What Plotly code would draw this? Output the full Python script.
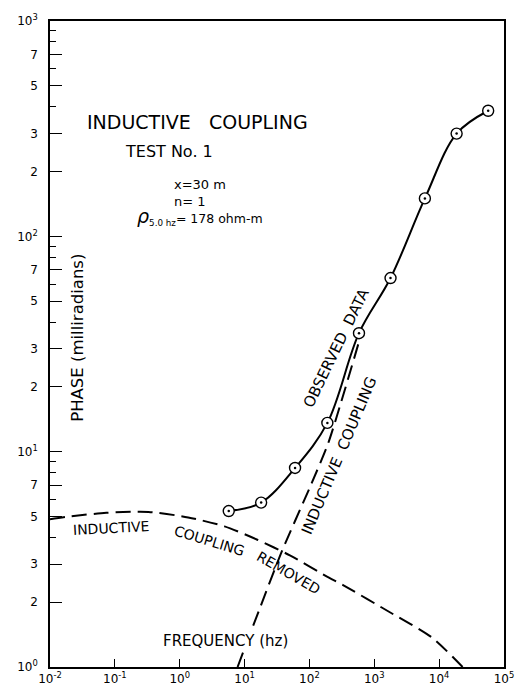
import plotly.graph_objects as go

# Observed phase (milliradians) versus frequency (hz)
obs_freq = [5.7, 18, 60, 189, 581, 1780, 6030, 18600, 57000]
obs_phase = [5.3, 5.8, 8.4, 13.6, 35.5, 64, 150, 300, 383]

# Phase with the inductive coupling removed
removed_freq = [0.01, 0.02, 0.074, 0.33, 1.35, 4.9, 15.7, 50, 200, 330, 1660, 7760, 23000]
removed_phase = [4.85, 5.0, 5.2, 5.25, 4.95, 4.5, 3.9, 3.3, 2.6, 2.4, 1.81, 1.37, 1.0]

# Inductive coupling component
coup_freq = [7.8, 37.8, 101, 196, 600]
coup_phase = [1.0, 3.46, 6.8, 11.0, 33.5]

# Axis ticks
y_tickvals = [1, 2, 3, 5, 7, 10, 20, 30, 50, 70, 100, 200, 300, 500, 700, 1000]
y_ticktext = ["10<sup>0</sup>", "2", "3", "5", "7",
              "10<sup>1</sup>", "2", "3", "5", "7",
              "10<sup>2</sup>", "2", "3", "5", "7",
              "10<sup>3</sup>"]
y_minorvals = [4, 6, 8, 9, 40, 60, 80, 90, 400, 600, 800, 900]
x_tickvals = [0.01, 0.1, 1, 10, 100, 1000, 10000, 100000]
x_ticktext = ["10<sup>-2</sup>", "10<sup>-1</sup>", "10<sup>0</sup>", "10<sup>1</sup>",
              "10<sup>2</sup>", "10<sup>3</sup>", "10<sup>4</sup>", "10<sup>5</sup>"]

W, H = 526, 698
ML, MR, MT, MB = 50, 16, 15, 21
FONT = "DejaVu Sans"


def paper(px, py):
    """Pixel position on the page -> paper coordinates of the plot area."""
    return (px - ML) / (W - ML - MR), (H - MB - py) / (H - MT - MB)


fig = go.Figure()

fig.add_trace(go.Scatter(
    x=removed_freq, y=removed_phase, mode="lines",
    line=dict(color="black", width=2, dash="15px,7px", shape="spline", smoothing=0.7),
    hoverinfo="skip", showlegend=False))

fig.add_trace(go.Scatter(
    x=coup_freq, y=coup_phase, mode="lines",
    line=dict(color="black", width=2, dash="15px,7px", shape="spline", smoothing=0.6),
    hoverinfo="skip", showlegend=False))

fig.add_trace(go.Scatter(
    x=obs_freq, y=obs_phase, mode="lines+markers",
    line=dict(color="black", width=2, shape="spline", smoothing=1.0),
    marker=dict(symbol="circle", size=11, color="white",
                line=dict(color="black", width=1.4)),
    showlegend=False))

fig.add_trace(go.Scatter(
    x=obs_freq, y=obs_phase, mode="markers",
    marker=dict(symbol="circle", size=2.5, color="black"),
    hoverinfo="skip", showlegend=False))


def label(text, px, py, size=15, angle=0, xanchor="center", align="center", bg=None):
    x, y = paper(px, py)
    fig.add_annotation(text=text, x=x, y=y, xref="paper", yref="paper",
                       showarrow=False, textangle=angle, xanchor=xanchor, align=align,
                       yanchor="middle", bgcolor=bg, borderpad=0,
                       font=dict(family=FONT, size=size, color="black"))


label("INDUCTIVE&nbsp;&nbsp;&nbsp;COUPLING", 199, 118, size=19)
label("TEST No. 1", 171, 149, size=16)
label("x=30 m<br>n= 1", 175, 191, size=13, xanchor="left", align="left")
label("<i><span style='font-size:19px'>ρ</span></i><sub>5.0 hz</sub>= 178 ohm-m", 137, 215,
      size=12.5, xanchor="left")
label("PHASE (milliradians)", 77, 340, size=16.5, angle=-90)
label("FREQUENCY (hz)", 228, 650, size=15, bg="white")
label("OBSERVED&nbsp;&nbsp;DATA", 340, 350, size=15, angle=-64)
label("INDUCTIVE&nbsp;&nbsp;COUPLING", 343, 461, size=15, angle=-67)
label("INDUCTIVE", 112, 535, size=14, angle=-3)
label("COUPLING", 212, 548, size=14, angle=17)
label("REMOVED", 292, 581, size=14, angle=30)

fig.update_xaxes(
    type="log", range=[-2, 5],
    tickmode="array", tickvals=x_tickvals, ticktext=x_ticktext,
    ticks="inside", ticklen=8, tickwidth=1.3, tickcolor="black",
    showline=True, linecolor="black", linewidth=1.5, mirror=True,
    showgrid=False, zeroline=False,
    tickfont=dict(family=FONT, size=12, color="black"))

fig.update_yaxes(
    type="log", range=[0, 3],
    tickmode="array", tickvals=y_tickvals, ticktext=y_ticktext,
    ticks="inside", ticklen=12, tickwidth=1.3, tickcolor="black",
    minor=dict(tickmode="array", tickvals=y_minorvals, ticks="inside",
               ticklen=6, tickwidth=1, tickcolor="black"),
    showline=True, linecolor="black", linewidth=1.5, mirror=True,
    showgrid=False, zeroline=False, ticklabelstandoff=8,
    tickfont=dict(family=FONT, size=12, color="black"))

fig.update_layout(
    width=W, height=H,
    margin=dict(l=ML, r=MR, t=MT, b=MB),
    paper_bgcolor="white", plot_bgcolor="white",
    font=dict(family=FONT, color="black"),
    showlegend=False)

fig.write_html("out.html")
